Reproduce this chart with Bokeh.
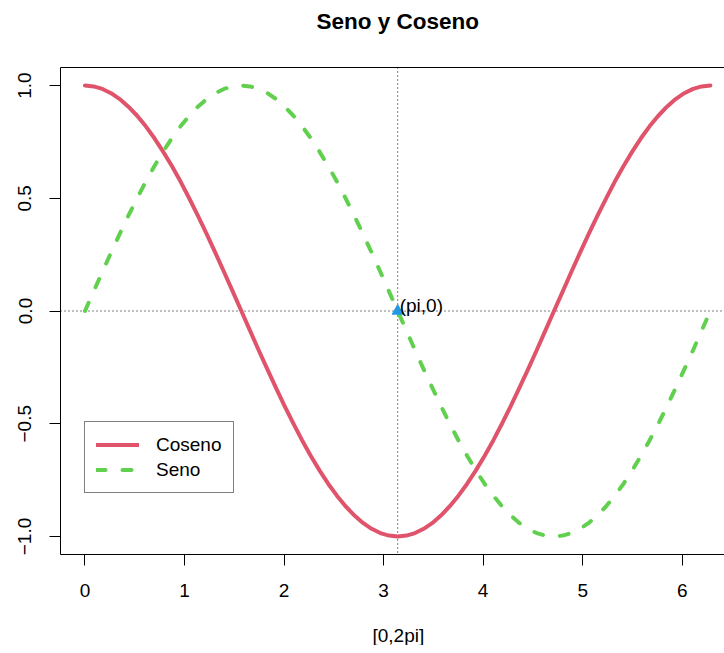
from bokeh.plotting import figure
from bokeh.models import Span, Legend, LegendItem, FixedTicker, Range1d, Title, LinearAxis
from bokeh.core.properties import value
from bokeh.embed import file_html
from bokeh.resources import INLINE

# ---- data ----
x_vals = [0.000, 0.087, 0.175, 0.262, 0.349, 0.436, 0.524, 0.611, 0.698, 0.785,
          0.873, 0.960, 1.047, 1.134, 1.222, 1.309, 1.396, 1.484, 1.571, 1.658,
          1.745, 1.833, 1.920, 2.007, 2.094, 2.182, 2.269, 2.356, 2.443, 2.531,
          2.618, 2.705, 2.793, 2.880, 2.967, 3.054, 3.142, 3.229, 3.316, 3.403,
          3.491, 3.578, 3.665, 3.752, 3.840, 3.927, 4.014, 4.102, 4.189, 4.276,
          4.363, 4.451, 4.538, 4.625, 4.712, 4.800, 4.887, 4.974, 5.061, 5.149,
          5.236, 5.323, 5.411, 5.498, 5.585, 5.672, 5.760, 5.847, 5.934, 6.021,
          6.109, 6.196, 6.283]
coseno = [1.000, 0.996, 0.985, 0.966, 0.940, 0.906, 0.866, 0.819, 0.766, 0.707,
          0.643, 0.574, 0.500, 0.423, 0.342, 0.259, 0.174, 0.087, 0.000, -0.087,
          -0.174, -0.259, -0.342, -0.423, -0.500, -0.574, -0.643, -0.707, -0.766, -0.819,
          -0.866, -0.906, -0.940, -0.966, -0.985, -0.996, -1.000, -0.996, -0.985, -0.966,
          -0.940, -0.906, -0.866, -0.819, -0.766, -0.707, -0.643, -0.574, -0.500, -0.423,
          -0.342, -0.259, -0.174, -0.087, 0.000, 0.087, 0.174, 0.259, 0.342, 0.423,
          0.500, 0.574, 0.643, 0.707, 0.766, 0.819, 0.866, 0.906, 0.940, 0.966,
          0.985, 0.996, 1.000]
seno = [0.000, 0.087, 0.174, 0.259, 0.342, 0.423, 0.500, 0.574, 0.643, 0.707,
        0.766, 0.819, 0.866, 0.906, 0.940, 0.966, 0.985, 0.996, 1.000, 0.996,
        0.985, 0.966, 0.940, 0.906, 0.866, 0.819, 0.766, 0.707, 0.643, 0.574,
        0.500, 0.423, 0.342, 0.259, 0.174, 0.087, 0.000, -0.087, -0.174, -0.259,
        -0.342, -0.423, -0.500, -0.574, -0.643, -0.707, -0.766, -0.819, -0.866, -0.906,
        -0.940, -0.966, -0.985, -0.996, -1.000, -0.996, -0.985, -0.966, -0.940, -0.906,
        -0.866, -0.819, -0.766, -0.707, -0.643, -0.574, -0.500, -0.423, -0.342, -0.259,
        -0.174, -0.087, 0.000]
series_names = ["Coseno", "Seno"]
x_ticks = [0, 1, 2, 3, 4, 5, 6]
y_ticks = [-1.0, -0.5, 0.0, 0.5, 1.0]
y_tick_labels = ["\u22121.0", "\u22120.5", "0.0", "0.5", "1.0"]
punto_x = [3.14159]
punto_y = [0.0]
punto_texto = ["(pi,0)"]
titulo = "Seno y Coseno"
x_label = "[0,2pi]"

FONT = "Liberation Sans"
RED = "#DF536B"
GREEN = "#61D04F"
BLUE = "#2297E6"

X0, X1 = -0.246, 6.425
Y0, Y1 = -1.08, 1.08

p = figure(width=724, height=645, output_backend="svg", toolbar_location=None,
           x_range=Range1d(X0, X1), y_range=Range1d(Y0, Y1),
           min_border_left=60, min_border_right=0, min_border_top=67,
           min_border_bottom=91, background_fill_color="white",
           border_fill_color="white")
p.outline_line_color = None
p.xgrid.visible = False
p.ygrid.visible = False

# axes
for ax in (p.xaxis[0], p.yaxis[0]):
    ax.major_tick_out = 11
    ax.major_tick_in = 0
    ax.minor_tick_line_color = None
    ax.major_tick_line_color = "black"
    ax.axis_line_color = "black"
    ax.major_label_text_font = FONT
    ax.major_label_text_font_size = "19px"
    ax.major_label_text_color = "black"
p.xaxis.ticker = FixedTicker(ticks=x_ticks)
p.yaxis.ticker = FixedTicker(ticks=y_ticks)
p.yaxis.major_label_overrides = {t: l for t, l in zip(y_ticks, y_tick_labels)}
p.yaxis.major_label_orientation = "vertical"
p.xaxis.major_label_standoff = 18
p.yaxis.major_label_standoff = 18

# top border of the box
p.add_layout(LinearAxis(ticker=FixedTicker(ticks=[]), major_tick_out=0,
                        major_tick_in=0, minor_tick_out=0, minor_tick_in=0,
                        major_label_standoff=0, axis_label_standoff=0,
                        major_label_text_font_size="0px", axis_line_color="black"),
             "above")


def spacer(size):
    return Title(text=" ", text_font_size="1px", standoff=size)


# room, then the title
p.add_layout(spacer(27), "above")
p.add_layout(Title(text=titulo, align="left", offset=256, text_font=FONT,
                   text_font_size="22.5px", text_font_style="bold",
                   text_color="black", standoff=8), "above")

# room below the tick labels, then the x label
p.add_layout(spacer(19.5), "below")
p.add_layout(Title(text=x_label, align="left", offset=312, text_font=FONT,
                   text_font_size="19px", text_font_style="normal",
                   text_color="black", standoff=0), "below")

# reference dotted lines
p.add_layout(Span(location=punto_x[0], dimension="height", line_color="black",
                  line_width=1, line_dash="1 3", level="underlay"))
p.add_layout(Span(location=punto_y[0], dimension="width", line_color="black",
                  line_width=1, line_dash="1 3", level="underlay"))

r_cos = p.line(x_vals, coseno, line_color=RED, line_width=4,
               line_cap="round", line_join="round")
r_sin = p.line(x_vals, seno, line_color=GREEN, line_width=4, line_dash="9 17",
               line_cap="round", line_join="round")

p.scatter(punto_x, punto_y, marker="triangle", size=11, fill_color=BLUE,
          line_color=BLUE)
p.text(x=punto_x, y=punto_y, text=punto_texto, text_font=value(FONT),
       text_font_size="19px", text_color="black", text_align="left",
       text_baseline="middle", x_offset=2, y_offset=-6)

legend = Legend(items=[LegendItem(label=series_names[0], renderers=[r_cos]),
                       LegendItem(label=series_names[1], renderers=[r_sin])],
                location=(24, 61), margin=0, padding=11, spacing=2,
                glyph_width=43, glyph_height=23, label_height=23,
                label_standoff=17, label_text_font=FONT,
                label_text_font_size="19px", label_text_color="black",
                border_line_color="black", border_line_width=1,
                background_fill_color="white", background_fill_alpha=1.0)
p.add_layout(legend)

open("out.html", "w").write(file_html(p, INLINE))
